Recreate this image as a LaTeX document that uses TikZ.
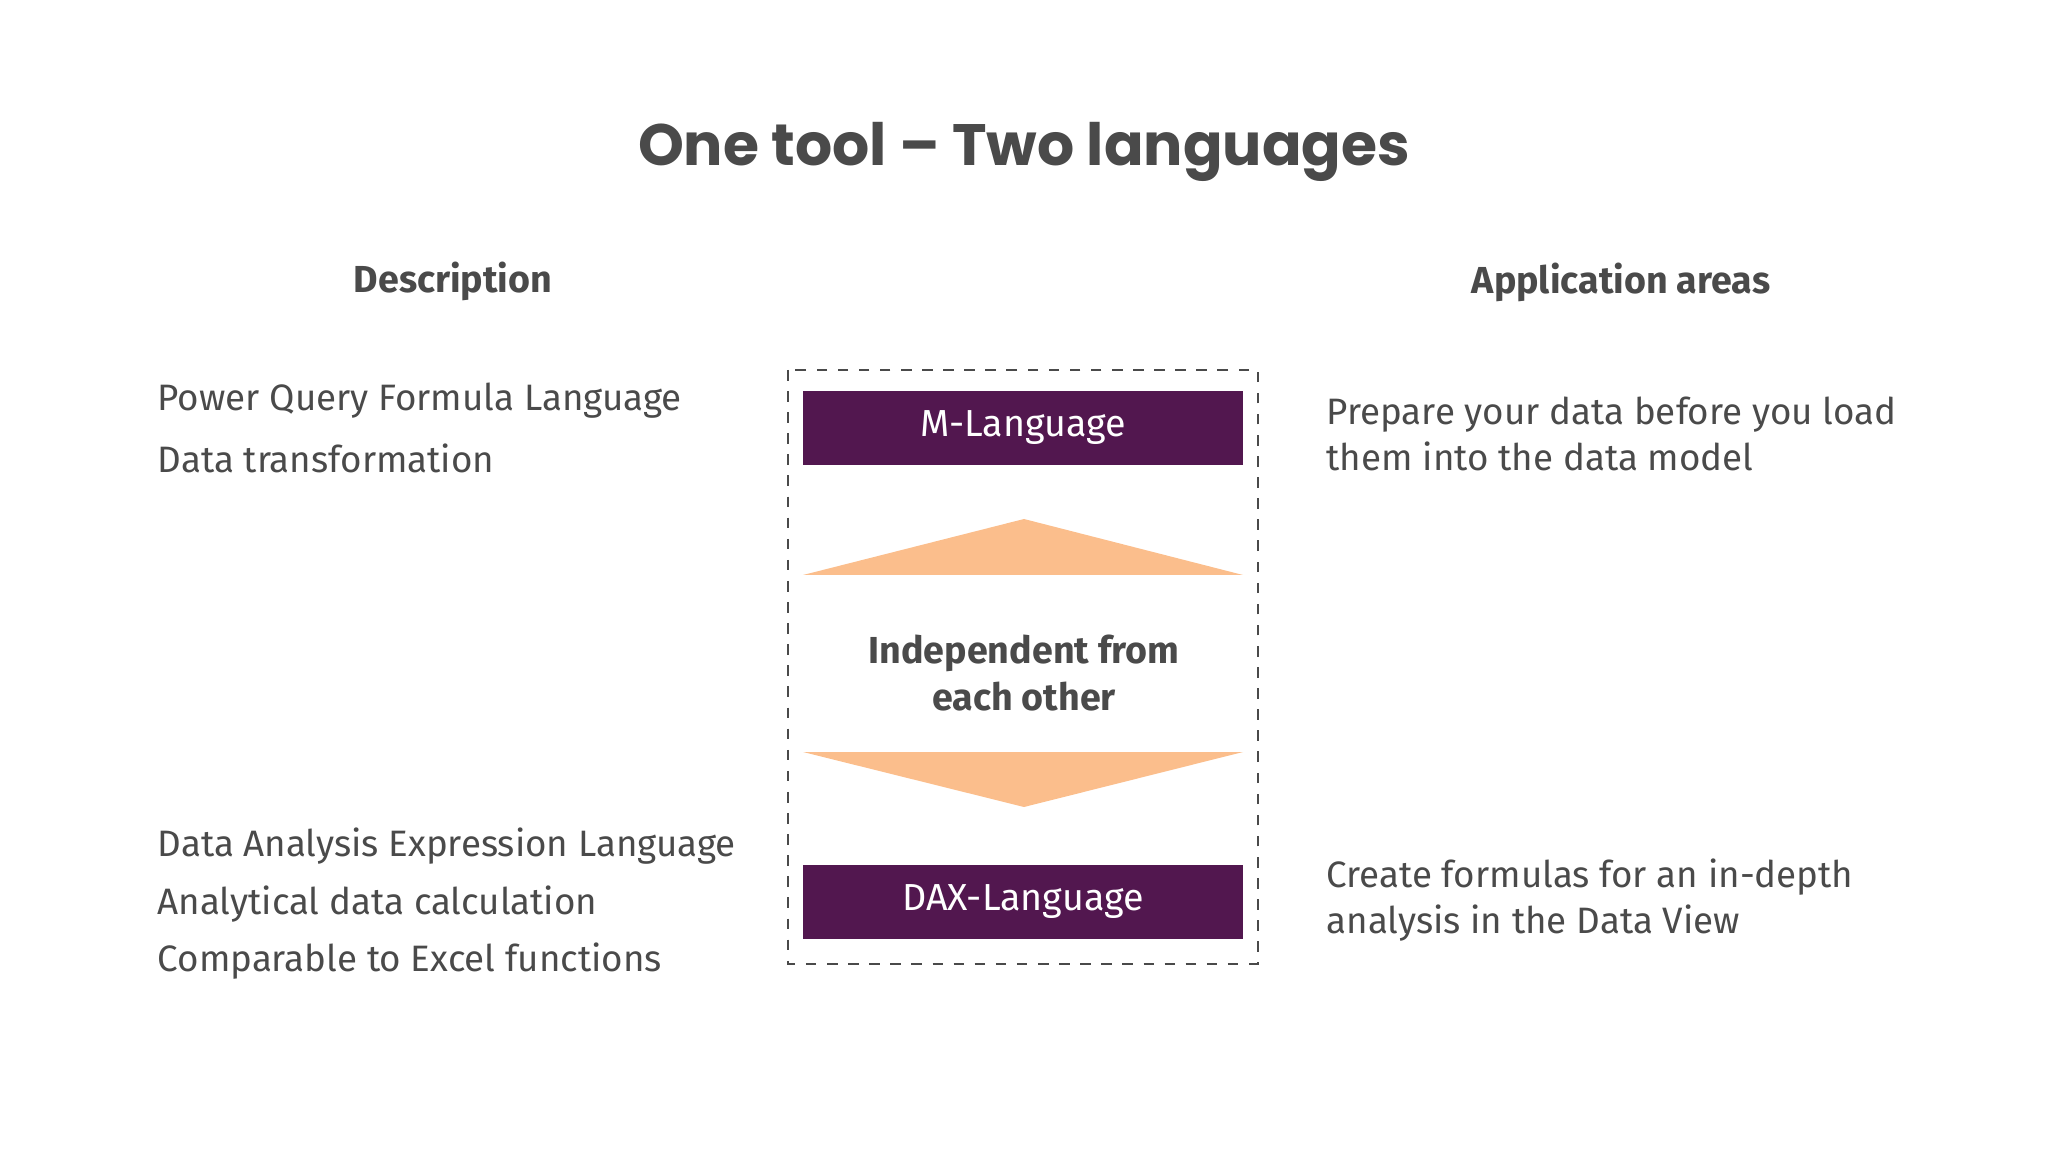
\documentclass[tikz,border=0pt]{standalone}
\usepackage{fontspec}
\setmainfont{Fira Sans}
\newfontfamily\titlefont{Poppins}
\usetikzlibrary{positioning}
\definecolor{txt}{HTML}{4A4A4A}
\definecolor{plum}{HTML}{52174F}
\definecolor{peach}{HTML}{FBBE8C}
\tikzset{
 body/.style={anchor=west,inner sep=0pt,text=txt,font=\fontsize{10.45}{12}\selectfont},
 head/.style={text=txt,font=\fontsize{10.7}{13}\selectfont\bfseries},
 lang/.style={fill=plum,text=white,minimum width=4.4cm,minimum height=0.73cm,font=\fontsize{10.7}{13}\selectfont},
 tri/.style={fill=peach}
}
\begin{document}
\begin{tikzpicture}[x=0.01cm,y=-0.01cm]
\useasboundingbox (0,0) rectangle (2048,1152);
\node[text=txt,font=\titlefont\fontsize{16.6}{20}\selectfont\bfseries] (title) at (1024,152) {One tool – Two languages};
\node[head] (hd) at (453,281) {Description};
\node[head] (ha) at (1621,282) {Application areas};
\node[body] (l1) at (157,401) {Power Query Formula Language};
\node[body] (l2) at (157,458) {Data transformation};
\node[body] (l3) at (157,846) {Data Analysis Expression Language};
\node[body] (l4) at (157,904) {Analytical data calculation};
\node[body] (l5) at (157,961) {Comparable to Excel functions};
\node[body,align=left,font=\fontsize{10.45}{13}\selectfont] (r1) at (1326,434) {Prepare your data before you load\\them into the data model};
\node[body,align=left,font=\fontsize{10.45}{13}\selectfont] (r2) at (1326,900) {Create formulas for an in-depth\\analysis in the Data View};
\draw[txt,dashed,line width=0.8pt] (788,370) rectangle (1258,964);
\node[lang] (m) at (1023,428) {M-Language};
\node[lang] (d) at (1023,902) {DAX-Language};
\fill[tri] (803,575) -- (1024,519) -- (1243,575) -- cycle;
\fill[tri] (803,752) -- (1024,807) -- (1243,752) -- cycle;
\node[head,align=center,font=\fontsize{10.7}{13.2}\selectfont\bfseries] (mid) at (1024,673) {Independent from\\each other};
\end{tikzpicture}
\end{document}
